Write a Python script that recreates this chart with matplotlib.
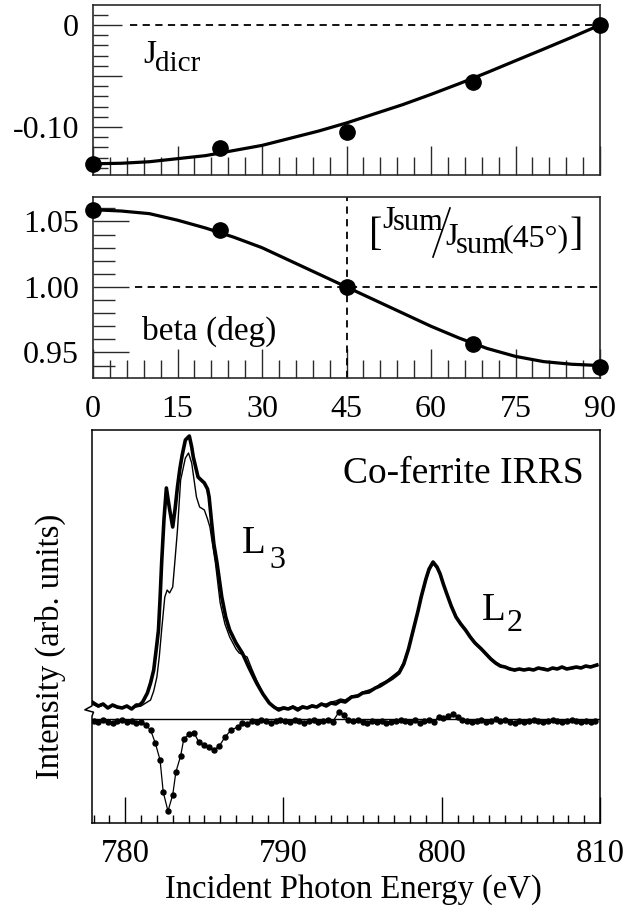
import matplotlib
matplotlib.use("Agg")
import matplotlib.pyplot as plt
from matplotlib.ticker import MultipleLocator, FixedLocator, FixedFormatter
from matplotlib.lines import Line2D

plt.rcParams["font.family"] = ["Liberation Serif", "DejaVu Serif"]

# --- angular dependence (beta in degrees) ---
beta_pts = [0, 22.5, 45, 67.5, 90]
jdicr_pts = [-0.136, -0.121, -0.105, -0.056, 0.0]
jsum_pts = [1.059, 1.0435, 1.000, 0.9565, 0.939]

beta_fit = [0, 5, 10, 15, 20, 25, 30, 35, 40, 45, 50, 55, 60, 65, 70, 75, 80, 85, 90]
jdicr_fit = [-0.136, -0.1355, -0.134, -0.131, -0.128, -0.123, -0.118, -0.111, -0.104,
             -0.096, -0.087, -0.078, -0.068, -0.0575, -0.0465, -0.035, -0.0236, -0.012, 0.0]
jsum_fit = [1.059, 1.058, 1.056, 1.051, 1.045, 1.038, 1.030, 1.020, 1.010, 1.000,
            0.990, 0.980, 0.970, 0.961, 0.953, 0.947, 0.943, 0.941, 0.940]

# --- spectra (arb. units, difference baseline at 0) ---
e_thick = [777.9, 778.3, 778.6, 778.9, 779.2, 779.5, 779.8, 780.1, 780.4, 780.7, 780.9,
           781.1, 781.4, 781.6, 781.8, 782.0, 782.1, 782.2, 782.3, 782.45, 782.6, 782.8,
           783.0, 783.15, 783.3, 783.45, 783.6, 783.8, 784.05, 784.2, 784.3, 784.45, 784.6,
           784.8, 785.0, 785.2, 785.3, 785.45, 785.6, 785.8, 786.1, 786.35, 786.6, 787.0,
           787.4, 787.8, 788.3, 788.7, 789.1, 789.4, 789.7, 790.0, 790.3, 790.6, 790.9,
           791.2, 791.5, 791.8, 792.1, 792.4, 792.7, 793.0, 793.3, 793.6, 793.9, 794.3,
           794.7, 795.0, 795.4, 795.8, 796.1, 796.5, 796.9, 797.3, 797.6, 797.9, 798.2,
           798.5, 798.7, 799.0, 799.2, 799.45, 799.7, 799.9, 800.1, 800.3, 800.6, 800.9,
           801.2, 801.5, 801.8, 802.1, 802.5, 802.8, 803.1, 803.4, 803.7, 804.0, 804.3,
           804.6, 804.9, 805.2, 805.5, 805.8, 806.1, 806.4, 806.7, 807.0, 807.3, 807.6,
           807.9, 808.2, 808.5, 808.8, 809.1, 809.4, 809.8]
i_thick = [0.17, 0.13, 0.15, 0.11, 0.14, 0.12, 0.11, 0.13, 0.10, 0.14, 0.14,
           0.17, 0.26, 0.36, 0.49, 0.75, 0.89, 1.20, 1.56, 2.00, 2.31, 2.10,
           1.92, 2.10, 2.32, 2.50, 2.64, 2.79, 2.83, 2.72, 2.62, 2.52, 2.42,
           2.39, 2.36, 2.30, 2.22, 1.98, 1.75, 1.56, 1.22, 1.02, 0.89, 0.76,
           0.66, 0.52, 0.36, 0.25, 0.16, 0.12, 0.09, 0.11, 0.10, 0.12, 0.09,
           0.12, 0.11, 0.13, 0.12, 0.15, 0.13, 0.16, 0.15, 0.18, 0.17, 0.22,
           0.23, 0.26, 0.27, 0.31, 0.33, 0.37, 0.41, 0.46, 0.55, 0.70, 0.89,
           1.08, 1.22, 1.40, 1.50, 1.57, 1.52, 1.45, 1.35, 1.26, 1.13, 1.02,
           0.95, 0.89, 0.82, 0.76, 0.70, 0.65, 0.60, 0.56, 0.53, 0.52, 0.50,
           0.49, 0.50, 0.49, 0.50, 0.49, 0.51, 0.50, 0.49, 0.51, 0.50, 0.52,
           0.50, 0.51, 0.52, 0.51, 0.53, 0.52, 0.54]

e_thin = [777.9, 778.3, 778.6, 778.9, 779.2, 779.5, 779.8, 780.1, 780.4, 780.7, 781.0,
          781.3, 781.6, 781.8, 782.0, 782.15, 782.3, 782.5, 782.65, 782.8, 783.0, 783.15,
          783.3, 783.5, 783.8, 784.0, 784.2, 784.5, 784.7, 785.0, 785.2, 785.35, 785.7,
          786.0, 786.3, 786.6, 787.0, 787.2, 787.7, 788.0, 788.3, 788.7, 789.1, 789.4,
          789.7, 790.0, 790.3, 790.6, 790.9, 791.2, 791.5, 791.8, 792.1, 792.4, 792.7,
          793.0, 793.3, 793.6, 793.9, 794.3, 794.7, 795.0, 795.4, 795.8, 796.1, 796.5,
          796.9, 797.3, 797.6, 797.9, 798.2, 798.5, 798.7, 799.0, 799.2, 799.45, 799.7,
          799.9, 800.1, 800.3, 800.6, 800.9, 801.2, 801.5, 801.8, 802.1, 802.5, 802.8,
          803.1, 803.4, 803.7, 804.0, 804.3, 804.6, 804.9, 805.2, 805.5, 805.8, 806.1,
          806.4, 806.7, 807.0, 807.3, 807.6, 807.9, 808.2, 808.5, 808.8, 809.1, 809.4,
          809.8]
i_thin = [0.15, 0.12, 0.14, 0.12, 0.13, 0.11, 0.12, 0.12, 0.11, 0.12, 0.13,
          0.16, 0.19, 0.28, 0.42, 0.62, 0.89, 1.22, 1.29, 1.26, 1.32, 1.60,
          1.89, 2.39, 2.61, 2.66, 2.56, 2.22, 2.12, 2.09, 2.00, 1.92, 1.56,
          1.16, 0.95, 0.82, 0.70, 0.66, 0.62, 0.50, 0.39, 0.26, 0.17, 0.12,
          0.11, 0.12, 0.11, 0.13, 0.11, 0.13, 0.12, 0.14, 0.13, 0.15, 0.15,
          0.17, 0.18, 0.20, 0.19, 0.23, 0.24, 0.27, 0.29, 0.31, 0.35, 0.38,
          0.43, 0.48, 0.57, 0.71, 0.90, 1.07, 1.20, 1.38, 1.48, 1.55, 1.51,
          1.44, 1.35, 1.27, 1.14, 1.03, 0.96, 0.90, 0.83, 0.77, 0.71, 0.66,
          0.61, 0.57, 0.54, 0.52, 0.51, 0.48, 0.50, 0.50, 0.49, 0.50, 0.50,
          0.51, 0.50, 0.50, 0.51, 0.51, 0.51, 0.50, 0.51, 0.52, 0.52, 0.53,
          0.53]

e_diff = [778.0, 778.3, 778.6, 778.9, 779.2, 779.5, 779.8, 780.1, 780.4, 780.7, 781.0,
          781.3, 781.6, 781.9, 782.2, 782.4, 782.7, 783.0, 783.2, 783.5, 783.7, 784.05,
          784.35, 784.65, 784.95, 785.3, 785.6, 785.95, 786.3, 786.7, 787.1, 787.4, 787.7,
          788.0, 788.3, 788.6, 788.9, 789.2, 789.5, 789.8, 790.1, 790.4, 790.7, 791.0,
          791.3, 791.6, 791.9, 792.2, 792.5, 792.8, 793.1, 793.5, 793.8, 794.1, 794.4,
          794.7, 795.0, 795.3, 795.6, 795.9, 796.2, 796.5, 796.8, 797.1, 797.4, 797.7,
          798.0, 798.3, 798.6, 798.9, 799.2, 799.5, 799.8, 800.1, 800.4, 800.7, 801.0,
          801.3, 801.6, 801.9, 802.2, 802.5, 802.8, 803.1, 803.4, 803.7, 804.0, 804.3,
          804.6, 804.9, 805.2, 805.5, 805.8, 806.1, 806.4, 806.7, 807.0, 807.3, 807.6,
          807.9, 808.2, 808.5, 808.8, 809.1, 809.4, 809.7]
i_diff = [-0.02, -0.03, -0.01, -0.03, -0.04, -0.02, -0.01, -0.03, -0.02, -0.04, -0.03,
          -0.06, -0.11, -0.24, -0.41, -0.73, -0.92, -0.76, -0.53, -0.37, -0.20, -0.15,
          -0.14, -0.23, -0.26, -0.28, -0.31, -0.27, -0.18, -0.11, -0.08, -0.04, -0.05,
          -0.02, -0.03, -0.01, -0.02, -0.04, -0.02, -0.01, -0.02, -0.03, -0.01, -0.02,
          -0.04, -0.02, -0.01, -0.03, -0.02, -0.01, -0.03, 0.07, 0.04, -0.01, -0.02,
          -0.01, -0.03, -0.04, -0.02, -0.03, -0.02, -0.04, -0.03, -0.02, -0.01, -0.02,
          -0.03, -0.01, -0.04, -0.02, -0.01, -0.03, 0.02, 0.01, 0.03, 0.05, 0.02,
          -0.01, -0.02, -0.03, -0.02, -0.01, -0.03, -0.02, 0.00, -0.02, -0.01, -0.03,
          -0.04, -0.02, -0.03, -0.02, -0.01, -0.02, -0.03, -0.02, -0.01, -0.02, -0.03,
          -0.02, -0.01, -0.02, -0.03, -0.02, -0.03, -0.02]

W, H = 640, 913
fig = plt.figure(figsize=(W / 100, H / 100), dpi=100)


def fpos(x, y):
    # pixel position (from top-left) -> figure fraction
    return x / W, 1 - y / H


def ftext(x, y, s, size, **kw):
    fx, fy = fpos(x, y)
    kw.setdefault("ha", "left")
    kw.setdefault("va", "baseline")
    fig.text(fx, fy, s, fontsize=size, color="black", **kw)


spine_c = "#2a2a2a"

ax1 = fig.add_axes([93 / W, 1 - 175 / H, 507 / W, 170 / H])
ax2 = fig.add_axes([93 / W, 1 - 378 / H, 507 / W, 181 / H])
ax3 = fig.add_axes([92 / W, 1 - 823 / H, 508 / W, 393 / H])

for ax in (ax1, ax2):
    for s in ax.spines.values():
        s.set_color(spine_c)
        s.set_linewidth(1.2)
    ax.set_xlim(0, 90)
    ax.xaxis.set_major_locator(FixedLocator([0, 15, 30, 45, 60, 75, 90]))
    ax.xaxis.set_minor_locator(MultipleLocator(3))
    ax.tick_params(axis="x", which="major", direction="in", length=21, width=1.0,
                   color=spine_c, labelsize=23, pad=12)
    ax.tick_params(axis="x", which="minor", direction="in", length=13, width=1.0,
                   color=spine_c)
    ax.yaxis.set_minor_locator(MultipleLocator(0.01))

# top panel: J_dicr
ax1.set_ylim(-0.147, 0.0196)
ax1.yaxis.set_major_locator(FixedLocator([-0.10, -0.05, 0.0]))
ax1.yaxis.set_major_formatter(FixedFormatter(["-0.10", "", "0"]))
ax1.tick_params(axis="y", which="major", direction="in", length=21, width=1.0,
                color=spine_c, labelsize=23, pad=10)
ax1.tick_params(axis="y", which="minor", direction="in", length=11, width=1.0,
                color=spine_c)
ax1.tick_params(axis="x", labelbottom=False)
ax1.plot([6.5, 90], [0, 0], color="black", lw=1.3, ls=(0, (4, 3)))
ax1.plot(beta_fit, jdicr_fit, color="black", lw=2.3)
ax1.plot(beta_pts, jdicr_pts, "o", color="black", ms=11, clip_on=False, zorder=5)

# middle panel: J_sum ratio
ax2.set_ylim(0.9305, 1.0687)
ax2.yaxis.set_major_locator(FixedLocator([0.95, 1.00, 1.05]))
ax2.yaxis.set_major_formatter(FixedFormatter(["0.95", "1.00", "1.05"]))
ax2.tick_params(axis="y", which="major", direction="in", length=26, width=1.0,
                color=spine_c, labelsize=23, pad=10)
ax2.tick_params(axis="y", which="minor", direction="in", length=16, width=1.0,
                color=spine_c)
ax2.plot([7.5, 90], [1.0, 1.0], color="black", lw=1.3, ls=(0, (4, 3)))
ax2.plot([45, 45], [0.9305, 1.0687], color="black", lw=1.3, ls=(0, (4, 3)))
ax2.plot(beta_fit, jsum_fit, color="black", lw=2.3)
ax2.plot(beta_pts, jsum_pts, "o", color="black", ms=11, clip_on=False, zorder=5)

# bottom panel: spectra
ax3.set_xlim(777.9, 810)
ax3.set_ylim(-1.04, 2.89)
ax3.xaxis.set_major_locator(FixedLocator([780, 790, 800, 810]))
ax3.xaxis.set_minor_locator(MultipleLocator(1))
ax3.tick_params(axis="x", which="major", direction="in", length=19, width=1.0,
                color="black", labelsize=23.5, pad=11)
ax3.tick_params(axis="x", which="minor", direction="in", length=6, width=1.0,
                color="black")
ax3.set_yticks([])
for s in ax3.spines.values():
    s.set_linewidth(1.1)
ax3.spines["left"].set_visible(False)
ax3.add_line(Line2D([0, 0, -0.014, 0.003, 0, 0], [1, 0.298, 0.288, 0.282, 0.272, 0],
                    transform=ax3.transAxes, color="black", lw=1.1, clip_on=False))

ax3.axhline(0, color="black", lw=1.0)
ax3.plot(e_thin, i_thin, color="black", lw=1.0)
ax3.plot(e_thick, i_thick, color="black", lw=2.6)
ax3.plot(e_diff, i_diff, "-o", color="black", lw=0.9, ms=3.6)

# labels
ftext(143, 63, "J", 24)
ftext(155, 71, "dicr", 21)
ftext(142, 340, "beta (deg)", 24)

ftext(369, 245, "[", 29)
ftext(382, 228, "J", 23)
ftext(393, 230, "sum", 22)
x0, y0 = fpos(433, 257)
x1, y1 = fpos(450, 208)
fig.add_artist(Line2D([x0, x1], [y0, y1], transform=fig.transFigure, color="black", lw=1.2))
ftext(445, 245, "J", 23)
ftext(456, 253, "sum", 22)
ftext(503, 246, "(45°)", 23)
ftext(570, 245, "]", 29)

ftext(343, 483, "Co-ferrite IRRS", 27)
ftext(242, 553, "L", 28)
ftext(269, 568, "3", 23)
ftext(482, 620, "L", 28)
ftext(507, 631, "2", 23)

ftext(50, 646, "Intensity (arb. units)", 23.5, ha="center", va="center", rotation=90)
ftext(353, 898, "Incident Photon Energy (eV)", 23.5, ha="center")

fig.savefig("out.png", dpi=100)
